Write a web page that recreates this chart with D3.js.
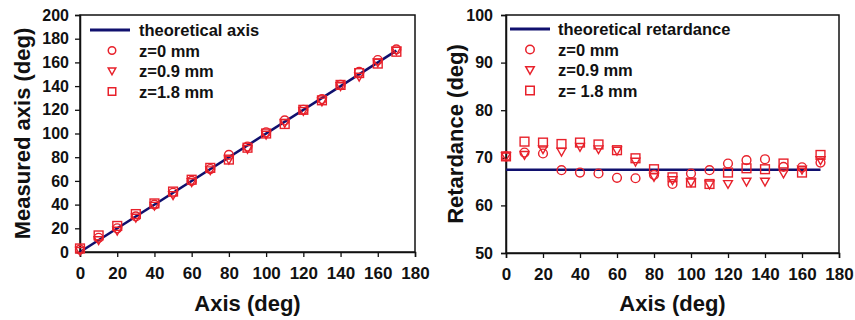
<!DOCTYPE html>
<html><head><meta charset="utf-8">
<script src="https://cdn.jsdelivr.net/npm/d3@7"></script>
<style>
body{margin:0;background:#fff;}
svg text{font-family:"Liberation Sans",Arial,sans-serif;font-weight:bold;fill:#111;}
</style></head>
<body><svg id="c" width="855" height="320"></svg>
<script>
const angles = [0,10,20,30,40,50,60,70,80,90,100,110,120,130,140,150,160,170];
const axisZ0  = [2,12,20,30,40,50,60,70,82,89,101,111,120,129,141,152,162,171];
const axisZ09 = [1,10,18,29,39,48,59,69,78,87,99,109,119,127,140,148,160,170];
const axisZ18 = [3,14,22,32,41,51,61,71,78,88,100,108,120,128,141,151,159,169];
const retZ0  = [70.3,71.1,70.9,67.4,66.9,66.7,65.8,65.7,66.4,64.5,66.7,67.4,68.8,69.5,69.7,68.1,68.0,69.0];
const retZ09 = [70.3,70.6,71.8,71.3,72.3,71.8,71.5,69.2,66.0,65.3,64.8,64.4,64.5,65.0,65.0,66.7,67.5,69.5];
const retZ18 = [70.3,73.4,73.2,72.9,73.2,72.8,71.6,69.9,67.6,65.9,64.8,64.5,66.9,67.8,67.6,68.8,66.9,70.6];
const theoAxis = [[0,0],[170,170]];
const theoRet = [[0,67.5],[170,67.5]];
const xTicks = [0,20,40,60,80,100,120,140,160,180];
const leftYTicks = [0,20,40,60,80,100,120,140,160,180,200];
const rightYTicks = [50,60,70,80,90,100];
const legendLeft = ["theoretical axis","z=0 mm","z=0.9 mm","z=1.8 mm"];
const legendRight = ["theoretical retardance","z=0 mm","z=0.9 mm","z= 1.8 mm"];

const RED = "#e8212b", NAVY = "#10106e";
const svg = d3.select("#c");

function sym(g, type, x, y, s) {
  if (type === "circle") g.append("circle").attr("cx", x).attr("cy", y).attr("r", s/2);
  else if (type === "tri") g.append("path").attr("d", `M${x-s/2},${y-s/2.6}L${x+s/2},${y-s/2.6}L${x},${y+s/2}Z`);
  else g.append("rect").attr("x", x-s/2).attr("y", y-s/2).attr("width", s).attr("height", s);
}

function chart(o) {
  const g = svg.append("g");
  const x = d3.scaleLinear().domain([0,180]).range([o.x0, o.x1]);
  const y = d3.scaleLinear().domain(o.yd).range([o.y1, o.y0]);
  g.append("rect").attr("x", o.x0).attr("y", o.y0).attr("width", o.x1-o.x0).attr("height", o.y1-o.y0)
    .attr("fill","none").attr("stroke","#111").attr("stroke-width",1.5);
  const xa = g.append("g").attr("transform",`translate(0,${o.y1})`)
    .call(d3.axisBottom(x).tickValues(xTicks).tickSize(5).tickPadding(10));
  const ya = g.append("g").attr("transform",`translate(${o.x0},0)`)
    .call(d3.axisLeft(y).tickValues(o.yt).tickSize(5).tickPadding(o.ypad));
  [xa, ya].forEach((a, k) => {
    a.select(".domain").attr("stroke","#111").attr("stroke-width",1.5);
    a.selectAll(".tick line").attr("stroke","#111").attr("stroke-width",1.3);
    a.selectAll("text").style("font-size", k === 0 ? "17px" : "16px").style("font-weight","bold")
      .style("font-family","'Liberation Sans',Arial,sans-serif").attr("fill","#111");
  });
  g.append("path").datum(o.theo).attr("fill","none").attr("stroke",NAVY).attr("stroke-width",2.6)
    .attr("d", d3.line().x(d=>x(d[0])).y(d=>y(d[1])));
  const types = ["circle","tri","square"];
  o.series.forEach((vals, i) => {
    const sg = g.append("g").attr("fill","none").attr("stroke",RED).attr("stroke-width",1.4);
    vals.forEach((v, j) => sym(sg, types[i], x(angles[j]), y(v), 8.8));
  });
  g.append("text").attr("x",(o.x0+o.x1)/2).attr("y",311).attr("text-anchor","middle")
    .style("font-size","22px").text("Axis (deg)");
  g.append("text").attr("transform",`translate(${o.ytx},${(o.y0+o.y1)/2}) rotate(-90)`)
    .attr("text-anchor","middle").style("font-size","22px").text(o.ytitle);
  const lg = g.append("g");
  lg.append("line").attr("x1",o.lx).attr("x2",o.lx+40).attr("y1",o.ly).attr("y2",o.ly)
    .attr("stroke",NAVY).attr("stroke-width",2.8);
  o.legend.forEach((t, i) => {
    lg.append("text").attr("x",o.lx+o.tdx).attr("y",o.ly+i*20.5+6).style("font-size","16.5px")
      .text(t);
    if (i > 0) {
      const sg = lg.append("g").attr("fill","none").attr("stroke",RED).attr("stroke-width",1.5);
      sym(sg, types[i-1], o.lx+o.sdx, o.ly+i*20.5, o.ss);
    }
  });
}

chart({x0:80,x1:415,y0:15,y1:252,yd:[0,200],yt:leftYTicks,theo:theoAxis,ypad:6,
  series:[axisZ0,axisZ09,axisZ18],ytitle:"Measured axis (deg)",ytx:30,
  legend:legendLeft,lx:90,ly:30,tdx:49,sdx:22,ss:7.5});
chart({x0:506,x1:839,y0:15,y1:253,yd:[50,100],yt:rightYTicks,theo:theoRet,ypad:8,
  series:[retZ0,retZ09,retZ18],ytitle:"Retardance (deg)",ytx:463,
  legend:legendRight,lx:510,ly:29,tdx:48,sdx:20,ss:8.5});
</script></body></html>
